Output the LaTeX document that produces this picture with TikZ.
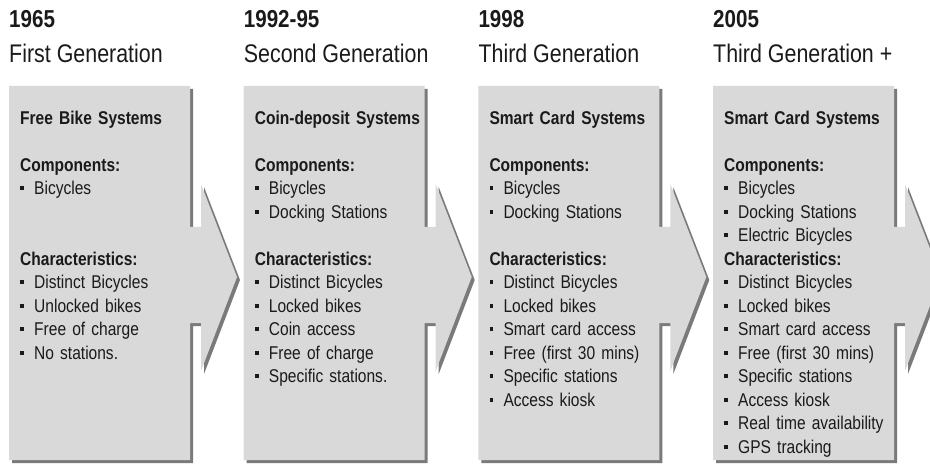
\documentclass[tikz,border=0pt]{standalone}
\usepackage{fontspec}
\setmainfont{Liberation Sans}[FakeStretch=0.84]
\usepackage{tikz}

\definecolor{boxgray}{HTML}{D9D9D9}
\definecolor{shadegray}{HTML}{7A7A7A}
\definecolor{inkgray}{HTML}{1A1A1A}

% small square bullet in front of each list entry
\newcommand{\sqbullet}{\rule[4.6pt]{3.6pt}{4pt}\hspace{10.4pt}}

\begin{document}
\begin{tikzpicture}[
  x=1pt, y=-1pt,
  box/.style={fill=boxgray, preaction={fill=shadegray, transform canvas={xshift=3pt, yshift=-3pt}}},
  yearlbl/.style={anchor=base west, inner sep=0, text=inkgray, font=\fontsize{24.5}{29}\selectfont\bfseries},
  genlbl/.style={anchor=base west, inner sep=0, text=inkgray, font=\fontsize{25.5}{30}\selectfont},
  info/.style={anchor=north west, inner sep=0, text width=175pt, align=left, text=inkgray,
               font=\fontsize{18.5}{23.5}\selectfont}
]
\useasboundingbox (0,0) rectangle (930,468);
\clip (0,0) rectangle (930,468);

% grey panels, each with its arrow to the next stage
\foreach \o in {0,234.7,469.3,704}
  \fill[box] (\o+9,86) -- (\o+190,86) -- (\o+190,227) -- (\o+201,227) -- (\o+201,184)
    -- (\o+237,277) -- (\o+201,371) -- (\o+201,323) -- (\o+190,323) -- (\o+190,460)
    -- (\o+9,460) -- cycle;

% headings
\node[yearlbl] (year1) at (9,28)       {1965};
\node[genlbl]  (gen1)  at (9,62.5)     {First Generation};
\node[yearlbl] (year2) at (243.7,28)   {1992-95};
\node[genlbl]  (gen2)  at (243.7,62.5) {Second Generation};
\node[yearlbl] (year3) at (478.3,28)   {1998};
\node[genlbl]  (gen3)  at (478.3,62.5) {Third Generation};
\node[yearlbl] (year4) at (713,28)     {2005};
\node[genlbl]  (gen4)  at (713,62.5)   {Third Generation +};

% panel contents
\node[info] (free) at (20,107.55) {\strut\textbf{Free Bike Systems}\\[23.5pt]
  \textbf{Components:}\\
  \sqbullet Bicycles\\[47pt]
  \textbf{Characteristics:}\\
  \sqbullet Distinct Bicycles\\
  \sqbullet Unlocked bikes\\
  \sqbullet Free of charge\\
  \sqbullet No stations.};

\node[info] (coin) at (254.7,107.55) {\strut\textbf{Coin-deposit Systems}\\[23.5pt]
  \textbf{Components:}\\
  \sqbullet Bicycles\\
  \sqbullet Docking Stations\\[23.5pt]
  \textbf{Characteristics:}\\
  \sqbullet Distinct Bicycles\\
  \sqbullet Locked bikes\\
  \sqbullet Coin access\\
  \sqbullet Free of charge\\
  \sqbullet Specific stations.};

\node[info] (card) at (489.3,107.55) {\strut\textbf{Smart Card Systems}\\[23.5pt]
  \textbf{Components:}\\
  \sqbullet Bicycles\\
  \sqbullet Docking Stations\\[23.5pt]
  \textbf{Characteristics:}\\
  \sqbullet Distinct Bicycles\\
  \sqbullet Locked bikes\\
  \sqbullet Smart card access\\
  \sqbullet Free (first 30 mins)\\
  \sqbullet Specific stations\\
  \sqbullet Access kiosk};

\node[info] (cardplus) at (724,107.55) {\strut\textbf{Smart Card Systems}\\[23.5pt]
  \textbf{Components:}\\
  \sqbullet Bicycles\\
  \sqbullet Docking Stations\\
  \sqbullet Electric Bicycles\\
  \textbf{Characteristics:}\\
  \sqbullet Distinct Bicycles\\
  \sqbullet Locked bikes\\
  \sqbullet Smart card access\\
  \sqbullet Free (first 30 mins)\\
  \sqbullet Specific stations\\
  \sqbullet Access kiosk\\
  \sqbullet Real time availability\\
  \sqbullet GPS tracking};

\end{tikzpicture}
\end{document}
